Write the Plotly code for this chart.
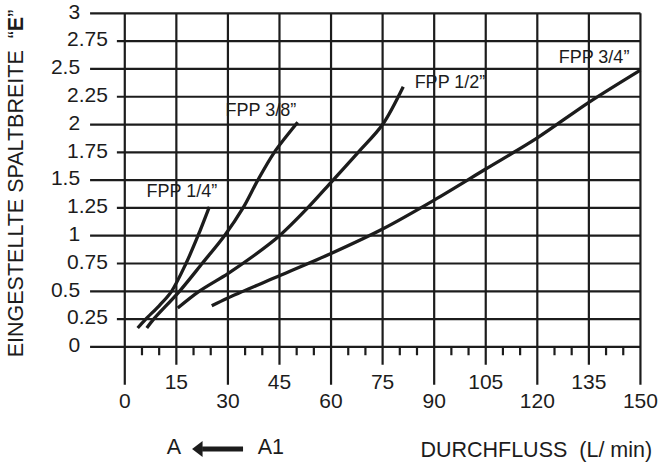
import plotly.graph_objects as go

# ---- data ----
flow_14 = [3.75, 6.1, 10.0, 13.6, 17.8, 21.3, 24.6]
gap_14 = [0.17, 0.25, 0.37, 0.5, 0.75, 1.0, 1.26]

flow_38 = [6.4, 8.4, 15.9, 22.5, 29.0, 34.4, 38.7, 43.5, 50.3]
gap_38 = [0.17, 0.25, 0.5, 0.75, 1.0, 1.25, 1.5, 1.75, 2.02]

flow_12 = [15.4, 21.6, 30.0, 37.5, 45.0, 53.2, 60.0, 67.9, 75.0, 81.0]
gap_12 = [0.35, 0.5, 0.66, 0.82, 1.0, 1.25, 1.48, 1.75, 2.0, 2.34]

flow_34 = [25.3, 30, 45, 60, 75, 90, 105, 120, 135, 150]
gap_34 = [0.37, 0.44, 0.64, 0.84, 1.06, 1.32, 1.6, 1.88, 2.2, 2.49]

series_names = ["FPP 1/4\u201d", "FPP 3/8\u201d", "FPP 1/2\u201d", "FPP 3/4\u201d"]

x_ticks = [0, 15, 30, 45, 60, 75, 90, 105, 120, 135, 150]
x_minor = [5, 10, 20, 25, 35, 40, 50, 55, 65, 70, 80, 85, 95, 100, 110, 115, 125, 130, 140, 145]
y_ticks = [0, 0.25, 0.5, 0.75, 1, 1.25, 1.5, 1.75, 2, 2.25, 2.5, 2.75, 3]
y_tick_labels = ["0", "0.25", "0.5", "0.75", "1", "1.25", "1.5", "1.75", "2", "2.25", "2.5", "2.75", "3"]

x_title = "DURCHFLUSS  (L/ min)"
y_title = "EINGESTELLTE SPALTBREITE  \u201c<b>E</b>\u201d"

# ---- styling ----
INK = "#1c1c1c"
FONT = "Liberation Sans, Arial, sans-serif"
GRID_W = 2.2
CURVE_W = 3.3

fig = go.Figure()

# curves
for fx, fy in [(flow_14, gap_14), (flow_38, gap_38), (flow_12, gap_12), (flow_34, gap_34)]:
    fig.add_trace(go.Scatter(x=fx, y=fy, mode="lines",
                             line=dict(color=INK, width=CURVE_W, shape="spline", smoothing=0.9),
                             hoverinfo="skip"))

# grid built from the tick arrays (one trace with gaps)
gx, gy = [], []
for v in y_ticks:
    long_line = abs((v * 2) - round(v * 2)) < 1e-9
    gx += [-10.1 if long_line else -2.3, 150, None]
    gy += [v, v, None]
for v in x_ticks:
    gx += [v, v, None]
    gy += [-0.34 if v % 30 == 0 else -0.16, 3, None]
fig.add_trace(go.Scatter(x=gx, y=gy, mode="lines", line=dict(color=INK, width=GRID_W),
                         hoverinfo="skip"))
mx, my = [], []
for v in x_minor:
    mx += [v, v, None]
    my += [-0.075, 0, None]
fig.add_trace(go.Scatter(x=mx, y=my, mode="lines", line=dict(color=INK, width=GRID_W),
                         hoverinfo="skip"))

tfont = dict(family=FONT, size=21, color=INK)

# y tick labels (staggered), right-aligned
half = [abs((v * 2) - round(v * 2)) < 1e-9 for v in y_ticks]
fig.add_trace(go.Scatter(x=[-13.0 if h else -4.9 for h in half], y=y_ticks, mode="text",
                         text=y_tick_labels, textposition="middle left", textfont=tfont,
                         hoverinfo="skip"))
# x tick labels (staggered)
fig.add_trace(go.Scatter(x=x_ticks, y=[-0.50 if v % 30 == 0 else -0.335 for v in x_ticks],
                         mode="text", text=[str(v) for v in x_ticks], textposition="middle center",
                         textfont=tfont, hoverinfo="skip"))
# series labels
label_x = [16.6, 39.6, 94.6, 136.5]
label_y = [1.385, 2.115, 2.37, 2.595]
fig.add_trace(go.Scatter(x=label_x, y=label_y, mode="text", text=series_names,
                         textposition="middle center",
                         textfont=dict(family=FONT, size=18, color=INK), hoverinfo="skip"))
# x title and "A <- A1"
fig.add_trace(go.Scatter(x=[119.7, 14.3, 42.5], y=[-0.945, -0.918, -0.918], mode="text",
                         text=[x_title, "A", "A1"], textposition="middle center",
                         textfont=dict(family=FONT, size=21.5, color=INK), hoverinfo="skip"))
# arrow shaft and head
fig.add_trace(go.Scatter(x=[34.4, 22.5], y=[-0.918, -0.918], mode="lines",
                         line=dict(color=INK, width=5), hoverinfo="skip"))
fig.add_trace(go.Scatter(x=[21.6], y=[-0.918], mode="markers",
                         marker=dict(symbol="triangle-left", size=14, color=INK,
                                     line=dict(width=0)), hoverinfo="skip"))

# rotated y title
fig.add_annotation(x=-31.4, y=1.47, xref="x", yref="y", text=y_title, showarrow=False,
                   textangle=-90, xanchor="center", yanchor="middle",
                   font=dict(family=FONT, size=21.5, color=INK))

fig.update_layout(
    width=659, height=465,
    margin=dict(l=0, r=0, t=0, b=0),
    paper_bgcolor="white", plot_bgcolor="white",
    xaxis=dict(range=[-36.3, 155.4], visible=False),
    yaxis=dict(range=[-1.062, 3.12], visible=False),
    showlegend=False,
)

fig.write_html("out.html", config={"displayModeBar": False},
               post_script="document.body.style.margin='0';document.body.style.overflow='hidden';")
